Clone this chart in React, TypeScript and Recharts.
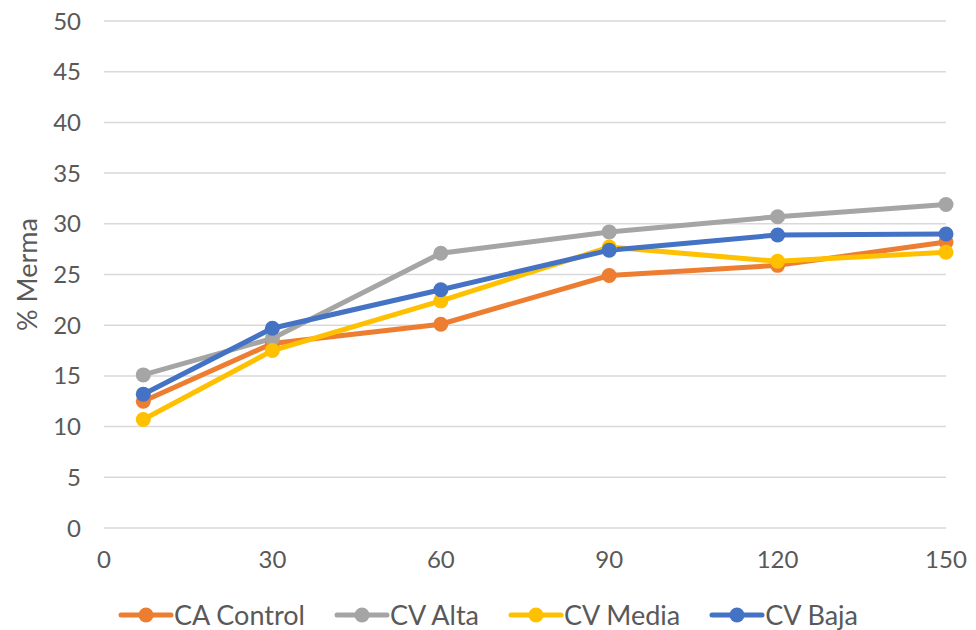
import * as React from 'react';
import { LineChart, Line, XAxis, YAxis, CartesianGrid, Legend } from 'recharts';

// storage days
const days = [7, 30, 60, 90, 120, 150];

// % weight loss per treatment
const caControl = [12.5, 18.2, 20.1, 24.9, 25.9, 28.2];
const cvAlta = [15.1, 18.7, 27.1, 29.2, 30.7, 31.9];
const cvMedia = [10.7, 17.5, 22.4, 27.7, 26.3, 27.2];
const cvBaja = [13.2, 19.7, 23.5, 27.4, 28.9, 29.0];

const xTicks = [0, 30, 60, 90, 120, 150];
const yTicks = [0, 5, 10, 15, 20, 25, 30, 35, 40, 45, 50];

const series = [
    { key: 'caControl', name: 'CA Control', color: '#ED7D31' },
    { key: 'cvAlta', name: 'CV Alta', color: '#A5A5A5' },
    { key: 'cvMedia', name: 'CV Media', color: '#FFC000' },
    { key: 'cvBaja', name: 'CV Baja', color: '#4472C4' },
];

const data = days.map((d, i) => ({
    day: d,
    caControl: caControl[i],
    cvAlta: cvAlta[i],
    cvMedia: cvMedia[i],
    cvBaja: cvBaja[i],
}));

const font = 'Lato, Carlito, Calibri, sans-serif';
const textColor = '#595959';

const LegendContent = () => (
    <div style={{ display: 'flex', justifyContent: 'center', alignItems: 'center', paddingTop: 22, fontFamily: font, fontSize: 27, color: textColor, lineHeight: '30px' }}>
        {series.map((s, i) => (
            <div key={s.key} style={{ display: 'flex', alignItems: 'center', marginRight: i < series.length - 1 ? 29 : 0 }}>
                <svg width={56} height={20}>
                    <line x1={3} y1={10} x2={53} y2={10} stroke={s.color} strokeWidth={5} strokeLinecap='round' />
                    <circle cx={28} cy={10} r={7.5} fill={s.color} />
                </svg>
                <span>{s.name}</span>
            </div>
        ))}
    </div>
);

const YLabel = (props: any) => {
    const { viewBox } = props;
    const cy = viewBox.y + viewBox.height / 2;
    return (
        <text x={37} y={cy} transform={`rotate(-90, 37, ${cy})`} textAnchor='middle' fill={textColor} fontSize={27} fontFamily={font}>
            % Merma
        </text>
    );
};

export default function App() {
    return (
        <div style={{ position: 'absolute', left: 0, top: 0, width: 976, height: 630, background: '#fff' }}>
            <LineChart width={976} height={630} data={data} margin={{ top: 21, right: 30, left: 0, bottom: 0 }}>
                <CartesianGrid horizontal={true} vertical={false} stroke='#D9D9D9' strokeWidth={1.5} />
                <XAxis
                    dataKey='day'
                    type='number'
                    domain={[0, 150]}
                    ticks={xTicks}
                    axisLine={false}
                    tickLine={false}
                    height={50}
                    tick={{ fill: textColor, fontSize: 24, fontFamily: font }}
                    tickMargin={17}
                />
                <YAxis
                    type='number'
                    domain={[0, 50]}
                    ticks={yTicks}
                    axisLine={false}
                    tickLine={false}
                    width={104}
                    tick={{ fill: textColor, fontSize: 24, fontFamily: font }}
                    tickMargin={17}
                    label={<YLabel />}
                />
                <Legend
                    verticalAlign='bottom'
                    height={52}
                    content={<LegendContent />}
                    wrapperStyle={{ bottom: 0, left: 0, width: 976 }}
                />
                {series.map((s) => (
                    <Line
                        key={s.key}
                        dataKey={s.key}
                        name={s.name}
                        stroke={s.color}
                        strokeWidth={5}
                        dot={{ r: 7.5, fill: s.color, stroke: s.color, strokeWidth: 0 }}
                        activeDot={false}
                        isAnimationActive={false}
                    />
                ))}
            </LineChart>
        </div>
    );
}
